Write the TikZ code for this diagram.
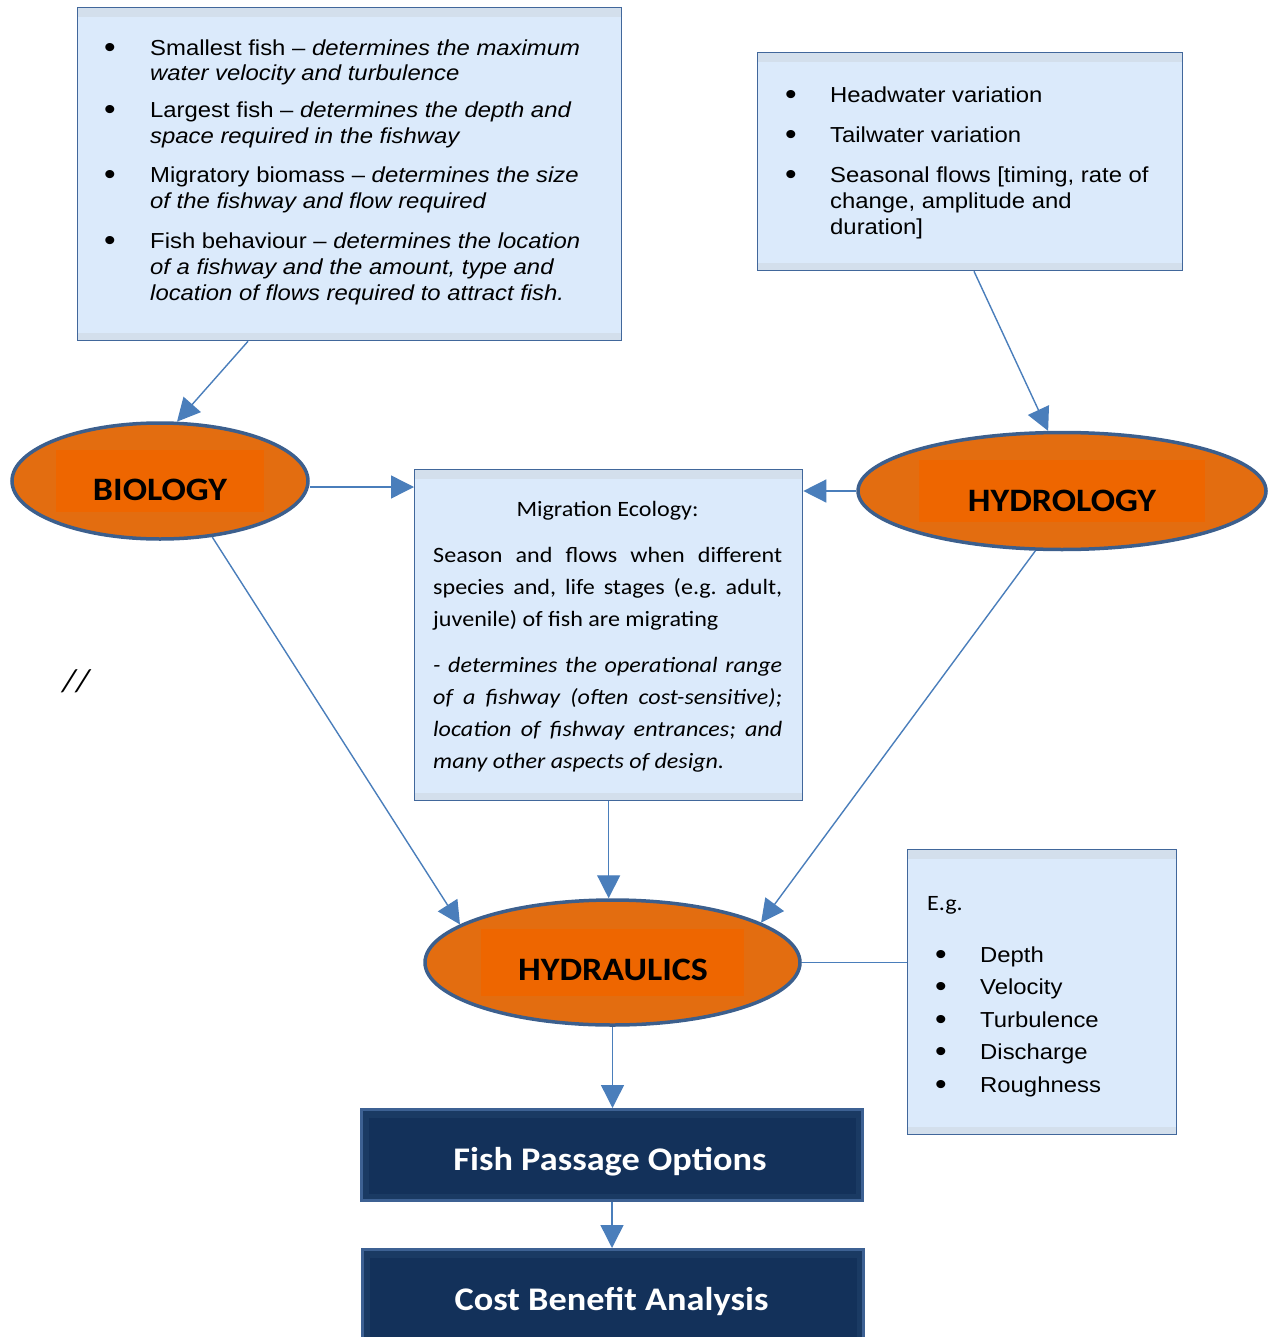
\documentclass[tikz,border=0pt]{standalone}
\usepackage{fontspec}
\setmainfont{Liberation Sans}[FakeStretch=1.1]
\newfontfamily\calib{Carlito}[FakeStretch=1.1]
\usetikzlibrary{arrows.meta,calc,shapes.geometric}
\frenchspacing
\definecolor{boxfill}{HTML}{DBEAFB}
\definecolor{stripc}{HTML}{D3DFEC}
\definecolor{boxline}{HTML}{41679B}
\definecolor{orout}{HTML}{E36D10}
\definecolor{orin}{HTML}{EE6600}
\definecolor{ellline}{HTML}{3C5F8D}
\definecolor{dfill}{HTML}{1A3A63}
\definecolor{dinner}{HTML}{13315A}
\definecolor{dline}{HTML}{3D6193}
\definecolor{arrc}{HTML}{4A7EBB}
\tikzset{
  lbox/.style={draw=boxline, line width=1.3pt, fill=boxfill, inner sep=0pt, anchor=north west,
    path picture={\fill[stripc] (path picture bounding box.north west) rectangle ([yshift=-9pt]path picture bounding box.north east);
                  \fill[stripc] (path picture bounding box.south west) rectangle ([yshift=8pt]path picture bounding box.south east);}},
  ell/.style={ellipse, draw=ellline, line width=3.5pt, fill=orout, inner sep=0pt,
    path picture={\fill[orin] let \p1=(path picture bounding box.south west), \p2=(path picture bounding box.north east) in
       ({\x1+0.15*(\x2-\x1)},{\y1+0.235*(\y2-\y1)}) rectangle ({\x2-0.15*(\x2-\x1)},{\y2-0.235*(\y2-\y1)});}},
  dbox/.style={draw=dline, line width=3pt, fill=dfill, inner sep=0pt, anchor=north west,
    path picture={\fill[dinner] ([shift={(7pt,-8pt)}]path picture bounding box.north west) rectangle ([shift={(-7pt,7pt)}]path picture bounding box.south east);}},
  arr/.style={draw=arrc, line width=1.4pt, -{Triangle[length=23pt,width=23pt]}},
  con/.style={draw=arrc, line width=1.4pt},
  lst/.style={font=\fontsize{21.7}{25.8}\selectfont, align=left, anchor=base west, inner sep=0pt},
  lstb/.style={font=\fontsize{30}{30}\selectfont, anchor=base, inner sep=0pt, yshift=-2pt},
  migt/.style={font=\calib\fontsize{21.9}{32}\selectfont, anchor=base west, inner sep=0pt},
  eltext/.style={font=\calib\bfseries\fontsize{32.7}{40}\selectfont, anchor=base, inner sep=0pt},
  dtext/.style={font=\calib\bfseries\fontsize{33}{40}\selectfont, text=white, anchor=base, inner sep=0pt}
}
\begin{document}
\begin{tikzpicture}[x=1pt,y=-1pt]
\useasboundingbox (0,0) rectangle (1268,1337);
% light boxes
\node[lbox, minimum width=544pt, minimum height=333pt] (tl) at (77,7) {};
\node[lbox, minimum width=425pt, minimum height=218pt] (tr) at (757,52) {};
\node[lbox, minimum width=388pt, minimum height=331pt] (mig) at (414,469) {};
\node[lbox, minimum width=269pt, minimum height=285pt] (eg) at (907,849) {};
% ellipses
\node[ell, minimum width=296pt, minimum height=116pt] (bio) at (160,481) {};
\node[ell, minimum width=408pt, minimum height=117pt] (hyd) at (1062,491) {};
\node[ell, minimum width=375pt, minimum height=125pt] (hyl) at (612.5,962.5) {};
\node[eltext] (biot) at (160,500) {BIOLOGY};
\node[eltext] (hydt) at (1062,511) {HYDROLOGY};
\node[eltext] (hylt) at (613,980) {HYDRAULICS};
% dark boxes
\node[dbox, minimum width=501pt, minimum height=91pt] (fpo) at (360,1108) {};
\node[dbox, minimum width=501pt, minimum height=95pt] (cba) at (361,1248) {};
\node[dtext] (fpot) at (610,1170) {Fish Passage Options};
\node[dtext] (cbat) at (611.5,1310) {Cost Benefit Analysis};
% top-left list
\node[lstb] (b1) at (110,56) {•};
\node[lst] (t1) at (150,56) {Smallest fish – \textit{determines the maximum}};
\node[lst] (t1b) at (150,81) {\textit{water velocity and turbulence}};
\node[lstb] (b2) at (110,118) {•};
\node[lst] (t2) at (150,118) {Largest fish – \textit{determines the depth and}};
\node[lst] (t2b) at (150,144) {\textit{space required in the fishway}};
\node[lstb] (b3) at (110,183) {•};
\node[lst] (t3) at (150,183) {Migratory biomass – \textit{determines the size}};
\node[lst] (t3b) at (150,209) {\textit{of the fishway and flow required}};
\node[lstb] (b4) at (110,249) {•};
\node[lst] (t4) at (150,249) {Fish behaviour – \textit{determines the location}};
\node[lst] (t4b) at (150,275) {\textit{of a fishway and the amount, type and}};
\node[lst] (t4c) at (150,301) {\textit{location of flows required to attract fish.}};
% top-right list
\node[lstb] (r1) at (791,103) {•};
\node[lst] (rt1) at (830,103) {Headwater variation};
\node[lstb] (r2) at (791,143) {•};
\node[lst] (rt2) at (830,143) {Tailwater variation};
\node[lstb] (r3) at (791,183) {•};
\node[lst] (rt3) at (830,183) {Seasonal flows [timing, rate of};
\node[lst] (rt3b) at (830,209) {change, amplitude and};
\node[lst] (rt3c) at (830,235) {duration]};
% migration ecology
\node[migt, anchor=base] (m0) at (607.5,516) {Migration Ecology:};
\node[migt] (m1) at (433,562) {\makebox[349pt][s]{Season and flows when different}};
\node[migt] (m2) at (433,594) {\makebox[349pt][s]{species and, life stages (e.g. adult,}};
\node[migt] (m3) at (433,626) {juvenile) of fish are migrating};
\node[migt] (m4) at (433,672) {\itshape\makebox[349pt][s]{- determines the operational range}};
\node[migt] (m5) at (433,704) {\itshape\makebox[349pt][s]{of a fishway (often cost-sensitive);}};
\node[migt] (m6) at (433,736) {\itshape\makebox[349pt][s]{location of fishway entrances; and}};
\node[migt] (m7) at (433,768) {\itshape many other aspects of design.};
% e.g. list
\node[migt] (eg0) at (927,910) {E.g.};
\node[lstb] (e1) at (941,962) {•};
\node[lst] (et1) at (980,962) {Depth};
\node[lstb] (e2) at (941,994) {•};
\node[lst] (et2) at (980,994) {Velocity};
\node[lstb] (e3) at (941,1027) {•};
\node[lst] (et3) at (980,1027) {Turbulence};
\node[lstb] (e4) at (941,1059) {•};
\node[lst] (et4) at (980,1059) {Discharge};
\node[lstb] (e5) at (941,1092) {•};
\node[lst] (et5) at (980,1092) {Roughness};
% stray mark
\node[font=\calib\itshape\fontsize{32}{34}\selectfont, anchor=base, inner sep=0pt] (sl) at (76,691) {//};
% connectors
\draw[arr] ([xshift=171pt]tl.south west) -- (bio.74);
\draw[arr] ([xshift=217pt]tr.south west) -- (hyd.103);
\draw[arr] ([yshift=-6pt]bio.east) -- ([yshift=-6pt]bio.east -| mig.west);
\draw[arr] (hyd.west) -- (hyd.west -| mig.east);
\draw[arr] (bio.-47) -- (hyl.166.5);
\draw[arr] (mig.south) -- (mig.south |- hyl.north);
\draw[arr] (hyd.246) -- (hyl.15);
\draw[arr] (hyl.south) -- (hyl.south |- fpo.north);
\draw[arr] (fpo.south) -- (fpo.south |- cba.north);
\draw[con] (hyl.east) -- (hyl.east -| eg.west);
\end{tikzpicture}
\end{document}
